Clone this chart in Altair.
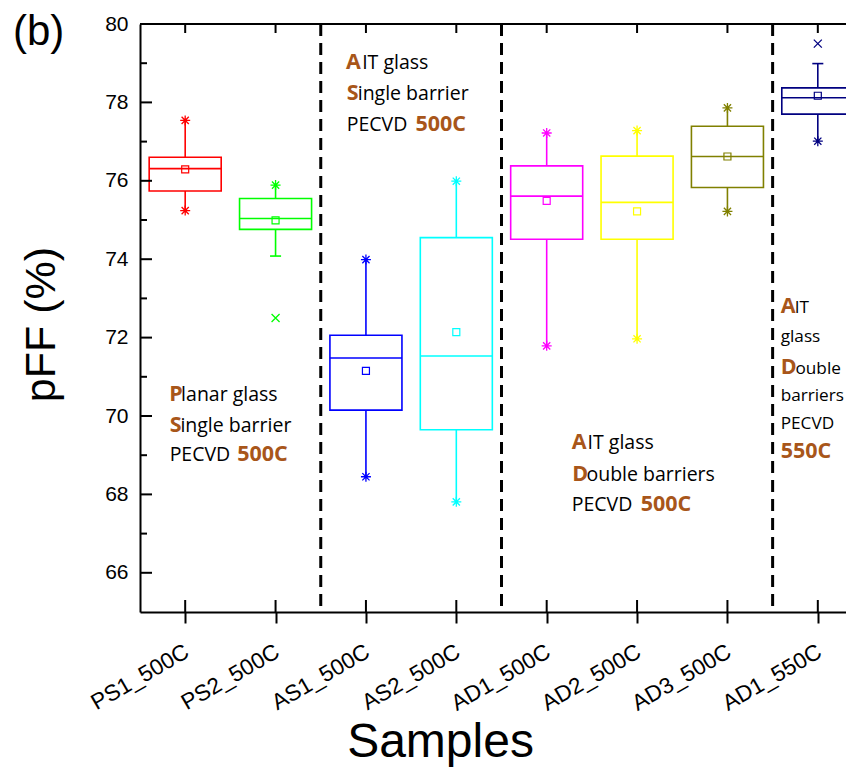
import json
import altair as alt
import pandas as pd

FONT = "Liberation Sans"
ANN_FONT = "Open Sans"
BROWN = "#A8561A"

samples = ["PS1_500C", "PS2_500C", "AS1_500C", "AS2_500C",
           "AD1_500C", "AD2_500C", "AD3_500C", "AD1_550C"]
colors = ["#FF0000", "#00FF00", "#0000FF", "#00FFFF",
          "#FF00FF", "#FFFF00", "#808000", "#000080"]
q1 = [75.74, 74.76, 70.15, 69.65, 74.51, 74.51, 75.83, 77.70]
median = [76.31, 75.04, 71.48, 71.53, 75.61, 75.45, 76.62, 78.12]
q3 = [76.60, 75.55, 72.06, 74.55, 76.38, 76.63, 77.39, 78.37]
mean = [76.29, 74.99, 71.15, 72.14, 75.49, 75.22, 76.62, 78.17]
whisker_low = [75.24, 74.08, 68.45, 67.81, 71.79, 71.97, 75.22, 77.01]
whisker_high = [77.54, 75.89, 73.99, 75.99, 77.22, 77.28, 77.86, 78.99]

# asterisk markers (min / max)
star_sample = [1, 1, 2, 3, 3, 4, 4, 5, 5, 6, 6, 7, 7, 8]
star_value = [77.54, 75.24, 75.89, 73.99, 68.45, 75.99, 67.81,
              77.22, 71.79, 77.28, 71.97, 77.86, 75.22, 77.01]
# x-shaped outliers
cross_sample = [2, 8]
cross_value = [72.50, 79.50]
# whisker caps
cap_sample = [2, 8]
cap_value = [74.08, 78.99]

separators = [2.5, 4.5, 7.5]
y_major = [66, 68, 70, 72, 74, 76, 78, 80]
y_minor = [67, 69, 71, 73, 75, 77, 79]

ann_text = ["P", "lanar glass", "S", "ingle barrier", "PECVD", "500C",
            "A", "IT glass", "S", "ingle barrier", "PECVD", "500C",
            "A", "IT glass", "D", "ouble barriers", "PECVD", "500C",
            "A", "IT", "glass", "D", "ouble", "barriers", "PECVD", "550C"]
ann_x = [0.824, 0.955, 0.828, 0.947, 0.828, 1.575,
         2.779, 2.958, 2.787, 2.909, 2.787, 3.548,
         5.277, 5.452, 5.283, 5.440, 5.277, 6.040,
         7.589, 7.745, 7.589, 7.589, 7.753, 7.589, 7.589, 7.589]
ann_y = [70.38, 70.38, 69.59, 69.59, 68.84, 68.84,
         78.84, 78.84, 78.05, 78.05, 77.27, 77.27,
         69.15, 69.15, 68.34, 68.34, 67.57, 67.57,
         72.62, 72.62, 71.90, 71.07, 71.07, 70.37, 69.66, 68.92]
ann_bold = [1, 0, 1, 0, 0, 1,
            1, 0, 1, 0, 0, 1,
            1, 0, 1, 0, 0, 1,
            1, 0, 0, 1, 0, 0, 0, 1]

panel_label = "(b)"

STEP = 90.375
W, H = 706, 588
HALF_BOX = 0.3985
HALF_CAP = 0.061

X_SCALE = alt.Scale(domain=[0.5, 0.5 + W / STEP], nice=False, zero=False)
Y_SCALE = alt.Scale(domain=[65, 80], nice=False, zero=False)

x_axis = alt.Axis(
    values=list(range(1, 9)),
    labelExpr=f"{json.dumps(samples)}[datum.value - 1]",
    title="Samples", titleFont=FONT, titleFontSize=48, titleFontWeight="normal",
    titleColor="black", titleX=300, titleY=144, titleBaseline="alphabetic",
    titleAlign="center",
    labelFont=FONT, labelFontSize=22.5, labelColor="black", labelAngle=330,
    labelAlign="right", labelBaseline="top", labelPadding=17, labelOffset=-4,
    labelOverlap=False, labelFlush=False, labelBound=False,
    domainColor="black", domainWidth=2, tickColor="black", tickWidth=2,
    tickSize=11, grid=False,
)
y_axis = alt.Axis(
    values=y_major,
    title="pFF (%)", titleFont=FONT, titleFontSize=43, titleFontWeight="normal",
    titleColor="black", titleX=-86, titleY=300, titleAngle=270,
    titleBaseline="alphabetic", titleAlign="center",
    labelFont=FONT, labelFontSize=21, labelColor="black", labelPadding=12,
    labelFlush=False, labelOverlap=False,
    ticks=False, tickSize=0, domainColor="black", domainWidth=2, grid=False,
)


def X(field):
    return alt.X(f"{field}:Q", scale=X_SCALE, axis=x_axis)


def Y(field):
    return alt.Y(f"{field}:Q", scale=Y_SCALE, axis=y_axis)


COLOR = alt.Color("color:N", scale=None, legend=None)

box_df = pd.DataFrame({
    "idx": list(range(1, 9)), "color": colors, "q1": q1, "median": median,
    "q3": q3, "mean": mean, "lo": whisker_low, "hi": whisker_high,
})
base = alt.Chart(box_df).transform_calculate(
    xl=f"datum.idx - {HALF_BOX}", xr=f"datum.idx + {HALF_BOX}"
)

boxes = base.mark_rect(fillOpacity=0, strokeWidth=1.6).encode(
    x=X("xl"), x2="xr", y=Y("q1"), y2="q3", stroke=COLOR
)
medians = base.mark_rule(strokeWidth=1.6).encode(
    x=X("xl"), x2="xr", y=Y("median"), color=COLOR
)
whisk_up = base.mark_rule(strokeWidth=1.6).encode(
    x=X("idx"), y=Y("q3"), y2="hi", color=COLOR
)
whisk_dn = base.mark_rule(strokeWidth=1.6).encode(
    x=X("idx"), y=Y("lo"), y2="q1", color=COLOR
)
means = base.mark_point(shape="square", size=49, filled=False, strokeWidth=1.2,
                        opacity=1).encode(x=X("idx"), y=Y("mean"), color=COLOR)

cap_df = pd.DataFrame({"idx": cap_sample, "val": cap_value,
                       "color": [colors[i - 1] for i in cap_sample]})
caps = alt.Chart(cap_df).transform_calculate(
    cl=f"datum.idx - {HALF_CAP}", cr=f"datum.idx + {HALF_CAP}"
).mark_rule(strokeWidth=1.6).encode(x=X("cl"), x2="cr", y=Y("val"), color=COLOR)

ASTERISK = "M-1,0L1,0M0,-1L0,1M-0.72,-0.72L0.72,0.72M-0.72,0.72L0.72,-0.72"
XSHAPE = "M-1,-1L1,1M-1,1L1,-1"

star_df = pd.DataFrame({"idx": star_sample, "val": star_value,
                        "color": [colors[i - 1] for i in star_sample]})
stars = alt.Chart(star_df).mark_point(shape=ASTERISK, size=100, filled=False,
                                      strokeWidth=1.3, opacity=1).encode(
    x=X("idx"), y=Y("val"), color=COLOR)

cross_df = pd.DataFrame({"idx": cross_sample, "val": cross_value,
                         "color": [colors[i - 1] for i in cross_sample]})
crosses = alt.Chart(cross_df).mark_point(shape=XSHAPE, size=64, filled=False,
                                         strokeWidth=1.3, opacity=1).encode(
    x=X("idx"), y=Y("val"), color=COLOR)

sep_df = pd.DataFrame({"sep": separators})
seps = alt.Chart(sep_df).mark_rule(strokeDash=[12, 7], strokeWidth=3,
                                   color="black").encode(x=X("sep"))

# frame ticks (inward)
idx_df = pd.DataFrame({"idx": list(range(1, 9))})
top_ticks = alt.Chart(idx_df).mark_rule(strokeWidth=2, color="black").encode(
    x=X("idx"), y=alt.value(0), y2=alt.value(9))
bot_ticks = alt.Chart(idx_df).mark_rule(strokeWidth=2, color="black").encode(
    x=X("idx"), y=alt.value(H - 12), y2=alt.value(H))
maj_df = pd.DataFrame({"v": y_major})
min_df = pd.DataFrame({"v": y_minor})
left_major = alt.Chart(maj_df).mark_rule(strokeWidth=2, color="black").encode(
    y=Y("v"), x=alt.value(0), x2=alt.value(12))
left_minor = alt.Chart(min_df).mark_rule(strokeWidth=2, color="black").encode(
    y=Y("v"), x=alt.value(0), x2=alt.value(7))
one = pd.DataFrame({"label": [panel_label]})
top_line = alt.Chart(one).mark_rule(strokeWidth=2, color="black").encode(
    x=alt.value(0), x2=alt.value(W), y=alt.value(0))

panel = alt.Chart(one).mark_text(font=FONT, fontSize=42, align="left",
                                 baseline="alphabetic", color="black").encode(
    x=alt.value(-127), y=alt.value(21), text="label:N")

ann_df = pd.DataFrame({"t": ann_text, "x": ann_x, "y": ann_y, "b": ann_bold})
ann_reg = alt.Chart(ann_df).transform_filter(
    "datum.b == 0 && datum.x < 7").mark_text(
    font=ANN_FONT, fontSize=19.5, align="left", baseline="alphabetic",
    color="black").encode(x=X("x"), y=Y("y"), text="t:N")
ann_reg_narrow = alt.Chart(ann_df).transform_filter(
    "datum.b == 0 && datum.x > 7").mark_text(
    font=ANN_FONT, fontSize=17.2, align="left", baseline="alphabetic",
    color="black").encode(x=X("x"), y=Y("y"), text="t:N")
ann_bld = alt.Chart(ann_df).transform_filter("datum.b == 1").mark_text(
    font=ANN_FONT, fontSize=21.5, fontWeight="bold", align="left",
    baseline="alphabetic", color=BROWN).encode(x=X("x"), y=Y("y"), text="t:N")

chart = alt.layer(
    seps, whisk_up, whisk_dn, caps, boxes, medians, means, stars, crosses,
    top_ticks, bot_ticks, left_major, left_minor,
    top_line, ann_reg, ann_reg_narrow, ann_bld, panel,
).properties(
    width=W, height=H,
    autosize=alt.AutoSizeParams(type="none"),
    padding={"left": 132, "top": 16, "right": 0, "bottom": 156},
    background="white",
).configure_view(strokeWidth=0)

chart.save("out.html", embed_options={"renderer": "svg", "actions": False})
